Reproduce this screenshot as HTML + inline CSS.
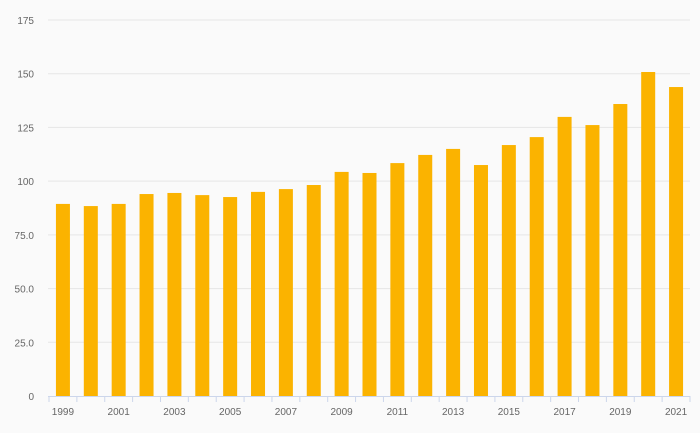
<!DOCTYPE html>
<html><head><meta charset="utf-8"><style>
body{margin:0;background:#fafafa;}
svg{display:block;font-family:"Liberation Sans",sans-serif;}
</style></head><body>
<svg id="chart" width="700" height="433"></svg>
<script>
const years=["1999","2000","2001","2002","2003","2004","2005","2006","2007","2008","2009","2010","2011","2012","2013","2014","2015","2016","2017","2018","2019","2020","2021"];
const values=[89.4,88.4,89.4,94,94.5,93.5,92.6,95,96.3,98.2,104.3,103.8,108.4,112.2,115,107.5,116.8,120.5,129.9,126.1,135.9,150.8,143.8];
const yTicks=[0,25,50,75,100,125,150,175];
const yTickLabels=["0","25.0","50.0","75.0","100","125","150","175"];
const NS="http://www.w3.org/2000/svg";
const svg=document.getElementById('chart');
const L=49,R=690,T=20,B=396,yMax=175;
const y=v=>B-(v/yMax)*(B-T);
const step=(R-L)/years.length;
const x=i=>L+step*(i+0.5);
function mk(tag,attrs){const e=document.createElementNS(NS,tag);for(const k in attrs)e.setAttribute(k,attrs[k]);svg.appendChild(e);return e;}
yTicks.forEach((t,i)=>{
  if(t>0){const g=mk('line',{x1:48,x2:R,y1:y(t),y2:y(t),stroke:'#e6e6e6','stroke-width':1});
  
  }
  const lb=mk('text',{x:34,y:y(t)+4,'text-anchor':'end','font-size':10,fill:'#666'});
  lb.textContent=yTickLabels[i];
  
  
});
values.forEach((v,i)=>{
  const r=mk('rect',{x:x(i)-7,y:y(v),width:14,height:B-y(v),fill:'#fbb300'});
  
  
});
const ax=mk('line',{x1:48,x2:R,y1:B+0.5,y2:B+0.5,stroke:'#ccd6eb','stroke-width':1});


for(let i=0;i<=years.length;i++){
  const tk=mk('line',{x1:L+step*i,x2:L+step*i,y1:B,y2:B+6,stroke:'#ccd6eb','stroke-width':1});
  
  
}
years.forEach((yr,i)=>{
  if(i%2)return;
  const lb=mk('text',{x:x(i),y:415,'text-anchor':'middle','font-size':10,fill:'#666'});
  lb.textContent=yr;
  
  
});
</script>
</body></html>
